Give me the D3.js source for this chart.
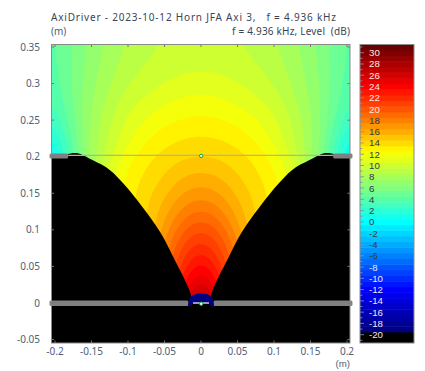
<!DOCTYPE html>
<html><head><meta charset="utf-8">
<script src="https://cdn.jsdelivr.net/npm/d3@7"></script>
<style>
html,body{margin:0;padding:0;background:#fff;}
svg{display:block;}
text{font-family:"Noto Sans",sans-serif;font-size:10px;white-space:pre;}
text.cbl{font-family:"Liberation Sans",sans-serif;font-size:9.7px;}
</style></head><body><svg id="c" width="425" height="371"></svg>
<script>
// sampled sound field: half-profile, mirrored about x = 0
const absX = [0,0.025,0.05,0.075,0.1,0.125,0.15,0.175,0.205];
const rowY = [0.354,0.325,0.3,0.275,0.25,0.225,0.2,0.175,0.15,0.125,0.1,0.075,0.05,0.025,0];
const levels = [
 [9.7,9.65,9.55,9.1,8.55,7.8,6.8,5.6,4.0],
 [10.3,10.2,10.0,9.6,9.0,8.15,7.05,5.75,3.8],
 [11.0,10.85,10.5,10.05,9.4,8.45,7.2,5.8,3.5],
 [11.9,11.75,11.35,10.75,10.15,8.9,7.4,5.8,3.0],
 [12.75,12.6,12.2,11.65,10.75,9.45,7.65,5.6,2.0],
 [13.65,13.5,13.1,12.35,11.2,9.7,7.9,5.3,0.3],
 [14.5,14.35,13.9,13.25,12.2,10.3,7.7,4.8,-1.2],
 [15.75,15.4,14.5,13.7,12.8,11.2,8.5,5.5,-1],
 [17.1,16.6,15.2,14.2,13.1,11.2,8.5,5,-2],
 [18.8,17.9,16.1,14.3,13.2,11.2,8,5,-2],
 [20.7,19.5,16.8,14.4,13.2,11,8,5,-2],
 [22.5,20.9,18,14.6,13,11,8,5,-2],
 [24.4,22.2,18,15,13,11,8,5,-2],
 [26.8,23.5,19,15,13,11,8,5,-2],
 [30,24,19,15,13,11,8,5,-2]
];
// horn wall (outer to throat)
const wallX = [0.2053,0.19,0.1827,0.170,0.148,0.125,0.106,0.080,0.056,0.038,0.019,0.0137,0.012];
const wallY = [0.199,0.2,0.2036,0.205,0.195,0.182,0.163,0.131,0.097,0.063,0.025,0.011,0];
const xTicks = [-0.2,-0.15,-0.1,-0.05,0,0.05,0.1,0.15,0.2];
const yTicks = [-0.05,0,0.05,0.1,0.15,0.2,0.25,0.3,0.35];
const colorStops = [-19.5,-19,-12,-6,0,6,12.5,18,24,30];
const colorVals = ["#000070","#000080","#0000ff","#0080ff","#00ffff","#80ff80","#ffff00","#ff8000","#ff0000","#800000"];
const titleText = "AxiDriver - 2023-10-12 Horn JFA Axi 3,   f = 4.936 kHz";
const subText = "f = 4.936 kHz, Level  (dB)";

const svg = d3.select("#c");
const x = d3.scaleLinear().domain([0,0.2]).range([201,347]);
const y = d3.scaleLinear().domain([0,0.35]).range([303,47]);
const plot = {l:51.5,r:350,t:44.5,b:343};
const xMax = x.invert(plot.r), yMin = y.invert(plot.b);
const color = d3.scaleLinear().domain(colorStops).range(colorVals);

svg.append("defs").append("clipPath").attr("id","pc").append("rect")
  .attr("x",plot.l).attr("y",plot.t).attr("width",plot.r-plot.l).attr("height",plot.b-plot.t);
const g = svg.append("g").attr("clip-path","url(#pc)");

// mirrored field, resampled for rendering so the filled contours are smooth
const fullX = [...absX.slice(1).reverse().map(v=>-v), ...absX];
const fullRows = levels.map(r=>[...r.slice(1).reverse(),...r]);
const K = 5;
const W = (fullX.length-1)*K+1, H = (rowY.length-1)*K+1;
const field = new Float64Array(W*H);
for(let j=0;j<H;j++){
  const j0=Math.min(Math.floor(j/K),rowY.length-2), fy=j/K-j0;
  for(let i=0;i<W;i++){
    const i0=Math.min(Math.floor(i/K),fullX.length-2), fx=i/K-i0;
    field[j*W+i]=d3.interpolateNumber(
      d3.interpolateNumber(fullRows[j0][i0],fullRows[j0][i0+1])(fx),
      d3.interpolateNumber(fullRows[j0+1][i0],fullRows[j0+1][i0+1])(fx))(fy);
  }
}
d3.blur2({data:field,width:W,height:H},2);
const thresholds = d3.range(-20.5,32.5,1);
const contours = d3.contours().size([W,H]).thresholds(thresholds).smooth(true)(Array.from(field));
const gx = d3.scaleLinear().domain([0,W-1]).range([0,fullX.length-1]).clamp(true);
const gy = d3.scaleLinear().domain([0,H-1]).range([0,rowY.length-1]).clamp(true);
const xs = d3.scaleLinear().domain(d3.range(fullX.length)).range(fullX);
const ys = d3.scaleLinear().domain(d3.range(rowY.length)).range(rowY);
const path = d3.geoPath(d3.geoTransform({point(a,b){ this.stream.point(x(xs(gx(a-0.5))), y(ys(gy(b-0.5)))); }}));
g.append("rect").attr("x",plot.l).attr("y",plot.t).attr("width",plot.r-plot.l).attr("height",plot.b-plot.t).attr("fill",color(3));
g.selectAll("path.band").data(contours).join("path").attr("class","band")
  .attr("d",path).attr("fill",d=>color(d.value+0.5));

// black mask
const wallLine = d3.line().x(d=>x(d[0])).y(d=>y(d[1])).curve(d3.curveCatmullRom.alpha(0.5));
const leftWall = wallX.map((v,i)=>[-v,wallY[i]]);
const rightWall = wallX.map((v,i)=>[v,wallY[i]]).reverse();
const maskD = wallLine(leftWall)+"L"+x(0.012)+","+y(0)+wallLine(rightWall).replace(/^M/,"L")
  +"L"+x(xMax)+","+y(yMin)+"L"+x(-xMax)+","+y(yMin)+"Z";
g.append("path").attr("fill","#000").attr("d",maskD);

// thin line at y=0.2
svg.append("line").attr("x1",plot.l).attr("x2",plot.r).attr("y1",155.4).attr("y2",155.4)
  .attr("stroke","#b4b0a8").attr("stroke-width",1.2);

// grey bars
[[-0.2075,-0.182],[0.181,0.2075]].forEach(b=>{
  svg.append("rect").attr("x",x(b[0])).attr("width",x(b[1])-x(b[0])).attr("y",y(0.2)-3.2).attr("height",5).attr("rx",1.5).attr("fill","#808080");
});
[[-0.2075,-0.017],[0.017,0.2075]].forEach(b=>{
  svg.append("rect").attr("x",x(b[0])).attr("width",x(b[1])-x(b[0])).attr("y",y(0)-2.4).attr("height",5.4).attr("rx",1.5).attr("fill","#808080");
});
// dome
const dome = d3.path();
dome.moveTo(x(-0.0175),y(-0.004));
dome.quadraticCurveTo(x(-0.018),y(0.0135),x(0),y(0.013));
dome.quadraticCurveTo(x(0.018),y(0.0135),x(0.0175),y(-0.004));
dome.closePath();
svg.append("path").attr("fill","#000080").attr("d",dome.toString());
svg.append("rect").attr("x",x(-0.0125)).attr("width",x(0.0125)-x(-0.0125)).attr("y",y(0)+1).attr("height",2.5).attr("fill","#000");
svg.append("line").attr("x1",x(-0.011)).attr("x2",x(0.011)).attr("y1",y(0)).attr("y2",y(0)).attr("stroke","#e8e8f0").attr("stroke-width",1.3);
// markers
[[0,155.9],[0,303.8]].forEach(m=>{
  svg.append("circle").attr("cx",x(m[0])+0.2).attr("cy",m[1]).attr("r",1.7).attr("fill","#fff").attr("stroke","#1a9a30").attr("stroke-width",1);
});

// frame
svg.append("rect").attr("x",plot.l).attr("y",plot.t).attr("width",plot.r-plot.l).attr("height",plot.b-plot.t)
  .attr("fill","none").attr("stroke","#8a8a8a").attr("stroke-width",1);
// ticks
const tc="#777";
xTicks.forEach(v=>{
  svg.append("line").attr("x1",x(v)).attr("x2",x(v)).attr("y1",plot.t).attr("y2",plot.t+2.5).attr("stroke",tc);
  svg.append("line").attr("x1",x(v)).attr("x2",x(v)).attr("y1",plot.b).attr("y2",plot.b-2.5).attr("stroke",tc);
  svg.append("text").attr("x",x(v)).attr("y",354.5).attr("text-anchor","middle").attr("fill","#506078").text(v);
});
yTicks.forEach(v=>{
  svg.append("line").attr("y1",y(v)).attr("y2",y(v)).attr("x1",plot.l).attr("x2",plot.l+2.5).attr("stroke",tc);
  svg.append("line").attr("y1",y(v)).attr("y2",y(v)).attr("x1",plot.r).attr("x2",plot.r-2.5).attr("stroke",tc);
  svg.append("text").attr("x",40).attr("y",y(v)+3.5).attr("text-anchor","end").attr("fill","#506078").text(v);
});
svg.append("text").attr("x",51).attr("y",20.5).attr("fill","#3a4558").attr("textLength",285).attr("lengthAdjust","spacing").text(titleText);
svg.append("text").attr("x",51).attr("y",34.5).attr("fill","#506078").text("(m)");
svg.append("text").attr("x",232).attr("y",34.5).attr("fill","#3a4558").attr("textLength",118).attr("lengthAdjust","spacing").text(subText);
svg.append("text").attr("class","cbl").attr("x",350).attr("y",367).attr("text-anchor","end").attr("fill","#506078").text("(m)");

// colour bar
const bar = {l:360,r:414,t:44.5,b:343};
const cb = d3.scaleLinear().domain([30,-20]).range([52.7,334.7]);
const barLevels = d3.range(-20,32);
svg.selectAll("rect.cb").data(barLevels).join("rect").attr("class","cb")
  .attr("x",bar.l).attr("width",bar.r-bar.l)
  .attr("y",d=>Math.max(bar.t,cb(d+0.5)))
  .attr("height",d=>Math.min(bar.b,cb(d-0.5))-Math.max(bar.t,cb(d+0.5))+0.5)
  .attr("fill",d=>d===-20?"#000":color(d));
svg.append("rect").attr("x",bar.l).attr("y",cb(-20.5)).attr("width",bar.r-bar.l).attr("height",bar.b-cb(-20.5)).attr("fill","#000");
svg.append("rect").attr("x",bar.l).attr("y",bar.t).attr("width",bar.r-bar.l).attr("height",bar.b-bar.t)
  .attr("fill","none").attr("stroke","#8a8a8a");
d3.range(-21,32).forEach(v=>{
  const even=v%2===0;
  if(cb(v)<bar.t||cb(v)>bar.b) return;
  svg.append("line").attr("x1",bar.l).attr("x2",bar.l+(even?4:2.5)).attr("y1",cb(v)).attr("y2",cb(v))
    .attr("stroke","#8090b0").attr("stroke-opacity",0.85);
});
d3.range(-20,31,2).forEach(v=>{
  svg.append("text").attr("class","cbl").attr("x",369).attr("y",cb(v)+3.5)
    .attr("fill",v>=20?"#ffe8e8":(v<=-8?"#e8e8ff":"#303848")).text(v);
});
</script></body></html>
